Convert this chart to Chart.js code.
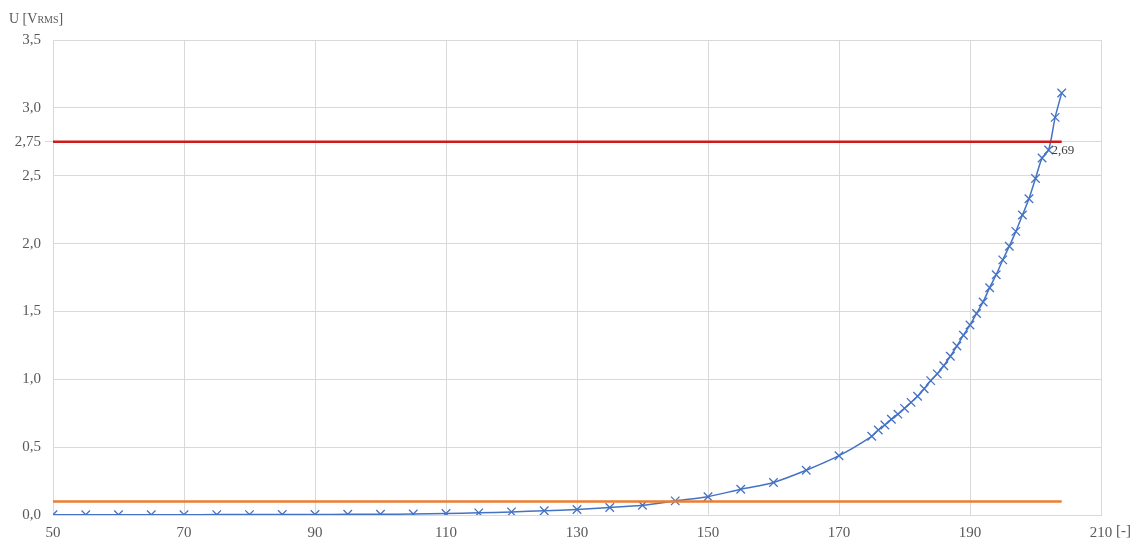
<!DOCTYPE html>
<html>
<head>
<meta charset="utf-8">
<script src="https://cdn.jsdelivr.net/npm/chart.js@4/dist/chart.umd.min.js"></script>
<style>
  body { margin: 0; background: #fff; }
</style>
</head>
<body>
<canvas id="chart1" width="1131" height="540"></canvas>
<script>
// measured points (x = [-], y = U in Vrms)
const xVals = [50, 55, 60, 65, 70, 75, 80, 85, 90, 95, 100, 105, 110, 115, 120, 125, 130, 135, 140, 145,
    150, 155, 160, 165, 170, 175, 176, 177, 178, 179, 180, 181, 182, 183, 184, 185, 186, 187, 188, 189,
    190, 191, 192, 193, 194, 195, 196, 197, 198, 199, 200, 201, 202, 203, 204];
const uVals = [0.002, 0.002, 0.002, 0.002, 0.002, 0.003, 0.003, 0.004, 0.004, 0.005, 0.006, 0.007, 0.011, 0.016, 0.023, 0.031, 0.041, 0.055, 0.072, 0.104,
    0.135, 0.19, 0.24, 0.33, 0.437, 0.58, 0.626, 0.663, 0.705, 0.743, 0.786, 0.83, 0.875, 0.93, 0.99, 1.04, 1.10, 1.17, 1.245, 1.325,
    1.40, 1.485, 1.57, 1.675, 1.77, 1.88, 1.98, 2.09, 2.21, 2.33, 2.48, 2.63, 2.69, 2.93, 3.11];

// limit lines
const limitX = [50, 204];
const upperLimit = 2.75;
const lowerLimit = 0.1;

// labelled point
const labelX = 202;

const yTicks = [0, 0.5, 1.0, 1.5, 2.0, 2.5, 2.75, 3.0, 3.5];

const serif = "'Liberation Serif', 'DejaVu Serif', serif";
const grey = "#595959";
const tickPad = 9;

function fmt(v) {
    if (v === 2.75) return "2,75";
    return v.toFixed(1).replace(".", ",");
}

const extraText = {
    id: "extraText",
    afterDraw(chart) {
        const ctx = chart.ctx;
        ctx.save();
        ctx.fillStyle = grey;
        ctx.textBaseline = "alphabetic";
        ctx.textAlign = "left";
        // axis title top left
        let x = 9;
        ctx.font = "14px " + serif;
        ctx.fillText("U [V", x, 23);
        x += ctx.measureText("U [V").width;
        ctx.font = "10px " + serif;
        ctx.fillText("RMS", x, 23);
        x += ctx.measureText("RMS").width;
        ctx.font = "14px " + serif;
        ctx.fillText("]", x, 23);

        // unit after last x tick
        const xs = chart.scales.x;
        ctx.font = "15px " + serif;
        const w = ctx.measureText("210").width;
        ctx.textBaseline = "top";
        ctx.fillText(" [-]", xs.getPixelForValue(210) + w / 2, xs.top + tickPad);

        // data label
        const idx = xVals.indexOf(labelX);
        const pt = chart.getDatasetMeta(0).data[idx];
        ctx.font = "13px " + serif;
        ctx.textBaseline = "middle";
        ctx.fillStyle = "#404040";
        ctx.fillText(uVals[idx].toFixed(2).replace(".", ","), pt.x + 3, pt.y + 1);
        ctx.restore();
    }
};

new Chart(document.getElementById("chart1"), {
    type: "line",
    data: {
        datasets: [{
            data: xVals.map((x, i) => ({ x: x, y: uVals[i] })),
            borderColor: "#4472C4",
            borderWidth: 1.5,
            pointStyle: "crossRot",
            pointRadius: 6,
            pointBorderColor: "#4472C4",
            pointBorderWidth: 1.3,
            tension: 0.3,
            order: 2
        }, {
            data: limitX.map(x => ({ x: x, y: upperLimit })),
            borderColor: "#D0191A",
            borderWidth: 2.5,
            pointRadius: 0,
            order: 1
        }, {
            data: limitX.map(x => ({ x: x, y: lowerLimit })),
            borderColor: "#ED7D31",
            borderWidth: 2.5,
            pointRadius: 0,
            order: 1
        }]
    },
    options: {
        responsive: false,
        animation: false,
        layout: { padding: { top: 40, right: 30, left: 0, bottom: 0 } },
        plugins: {
            legend: { display: false },
            tooltip: { enabled: false }
        },
        scales: {
            x: {
                type: "linear",
                min: 50,
                max: 210,
                ticks: {
                    stepSize: 20,
                    color: grey,
                    font: { family: serif, size: 15 },
                    padding: tickPad,
                    maxRotation: 0,
                    autoSkip: false
                },
                grid: { color: "#d9d9d9", tickLength: 0 },
                border: { color: "#d9d9d9" },
                afterFit(s) { s.height = 25; }
            },
            y: {
                min: 0,
                max: 3.5,
                afterBuildTicks(s) { s.ticks = yTicks.map(v => ({ value: v })); },
                ticks: {
                    color: grey,
                    font: { family: serif, size: 15 },
                    padding: 4,
                    autoSkip: false,
                    callback: v => fmt(v)
                },
                grid: {
                    color: "#d9d9d9",
                    tickLength: 8,
                    tickColor: c => c.tick && c.tick.value === 2.75 ? "#d9d9d9" : "rgba(0,0,0,0)"
                },
                border: { color: "#d9d9d9" },
                afterFit(s) { s.width = 53; }
            }
        }
    },
    plugins: [extraText]
});
</script>
</body>
</html>
